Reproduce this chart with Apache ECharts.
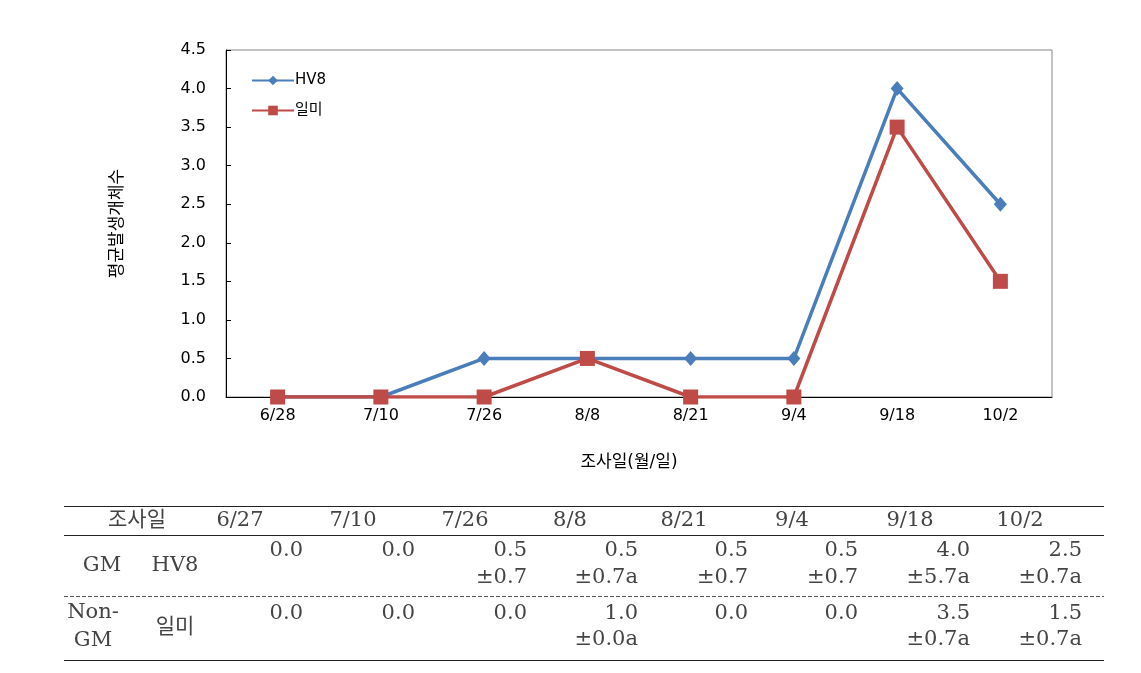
<!DOCTYPE html>
<html>
<head>
<meta charset="utf-8">
<script src="https://cdn.jsdelivr.net/npm/echarts@6/dist/echarts.min.js"></script>
<style>
  html, body { margin: 0; padding: 0; background: #fff; }
  #main { width: 1141px; height: 673px; }
</style>
</head>
<body>
<div id="main"></div>
<script>
// 조사일 (x축)
var categories = ['6/28', '7/10', '7/26', '8/8', '8/21', '9/4', '9/18', '10/2']
var hv8Values = [0, 0, 0.5, 0.5, 0.5, 0.5, 4.0, 2.5]
var ilmiValues = [0, 0, 0, 0.5, 0, 0, 3.5, 1.5]

// 표 데이터
var tableDates = ['6/27', '7/10', '7/26', '8/8', '8/21', '9/4', '9/18', '10/2']
var gmMean = ['0.0', '0.0', '0.5', '0.5', '0.5', '0.5', '4.0', '2.5']
var gmSd = ['', '', '±0.7', '±0.7a', '±0.7', '±0.7', '±5.7a', '±0.7a']
var nonGmMean = ['0.0', '0.0', '0.0', '1.0', '0.0', '0.0', '3.5', '1.5']
var nonGmSd = ['', '', '', '±0.0a', '', '', '±0.7a', '±0.7a']

// 표 레이아웃
var headCenterX = [240, 353, 465, 570, 684, 792, 910, 1020]
var valueRightX = [303, 415, 527, 638, 748, 858, 970, 1082]
var tableFont = '21px "DejaVu Serif", "Noto Sans CJK KR", serif'
var tableColor = '#444'

function txt (s, x, y, align) {
  return {
    type: 'text',
    style: {
      text: s, x: x, y: y,
      textAlign: align || 'center',
      textVerticalAlign: 'middle',
      font: tableFont,
      fill: tableColor
    }
  }
}
function hline (y, dashed) {
  return {
    type: 'line',
    shape: { x1: 64, y1: y, x2: 1104, y2: y },
    style: { stroke: dashed ? '#555' : '#222', lineWidth: 1, lineDash: dashed ? [4, 2] : null }
  }
}

var tableEls = [hline(506.5), hline(535.5), hline(596.5, true), hline(660.5)]
tableEls.push(txt('조사일', 137, 521))
tableEls.push(txt('GM', 102, 566))
tableEls.push(txt('HV8', 175, 566))
tableEls.push(txt('Non-', 93, 613))
tableEls.push(txt('GM', 93, 641))
tableEls.push(txt('일미', 175, 628))
tableDates.forEach(function (d, i) {
  tableEls.push(txt(d, headCenterX[i], 521))
  tableEls.push(txt(gmMean[i], valueRightX[i], 551, 'right'))
  if (gmSd[i]) tableEls.push(txt(gmSd[i], valueRightX[i], 578, 'right'))
  tableEls.push(txt(nonGmMean[i], valueRightX[i], 614, 'right'))
  if (nonGmSd[i]) tableEls.push(txt(nonGmSd[i], valueRightX[i], 640, 'right'))
})

var chartFont = '"DejaVu Sans", "Noto Sans CJK KR", sans-serif'
var myChart = echarts.init(document.getElementById('main'))
var option = {
  animation: false,
  textStyle: { fontFamily: chartFont },
  grid: {
    left: 226, top: 50, right: 89, bottom: 276,
    show: true, borderColor: '#868686', borderWidth: 1
  },
  legend: {
    orient: 'vertical',
    left: 246, top: 68,
    itemWidth: 42, itemHeight: 12, itemGap: 15,
    textStyle: { color: '#000', fontSize: 15, fontFamily: chartFont, padding: [0, 0, 0, -4] },
    data: ['HV8', '일미']
  },
  xAxis: {
    type: 'category',
    data: categories,
    name: '조사일(월/일)',
    nameLocation: 'middle',
    nameGap: 57,
    nameTextStyle: { color: '#000', fontSize: 17, padding: [0, 20, 0, 0] },
    axisLine: { lineStyle: { color: '#000', width: 1 } },
    axisTick: { inside: true, length: 5, lineStyle: { color: '#000' } },
    axisLabel: { color: '#000', fontSize: 16, margin: 11 },
    splitLine: { show: false }
  },
  yAxis: {
    type: 'value',
    min: 0, max: 4.5, interval: 0.5,
    name: '평균발생개체수',
    nameLocation: 'middle',
    nameRotate: 90,
    nameGap: 100,
    nameTextStyle: { color: '#000', fontSize: 17 },
    axisLine: { show: true, lineStyle: { color: '#000', width: 1 } },
    axisTick: { show: true, inside: true, length: 5, lineStyle: { color: '#000' } },
    axisLabel: { color: '#000', fontSize: 16, margin: 20, formatter: function (v) { return v.toFixed(1) } },
    splitLine: { show: false }
  },
  series: [
    {
      name: 'HV8',
      type: 'line',
      data: hv8Values,
      symbol: 'diamond',
      symbolSize: [13, 15],
      color: '#4a7ebb',
      lineStyle: { color: '#4a7ebb', width: 3.5 },
      itemStyle: { color: '#4a7ebb' },
      z: 2
    },
    {
      name: '일미',
      type: 'line',
      data: ilmiValues,
      symbol: 'rect',
      symbolSize: 15,
      color: '#be4b48',
      lineStyle: { color: '#be4b48', width: 3.5 },
      itemStyle: { color: '#be4b48' },
      z: 3
    }
  ],
  graphic: tableEls
}
myChart.setOption(option)
</script>
</body>
</html>
